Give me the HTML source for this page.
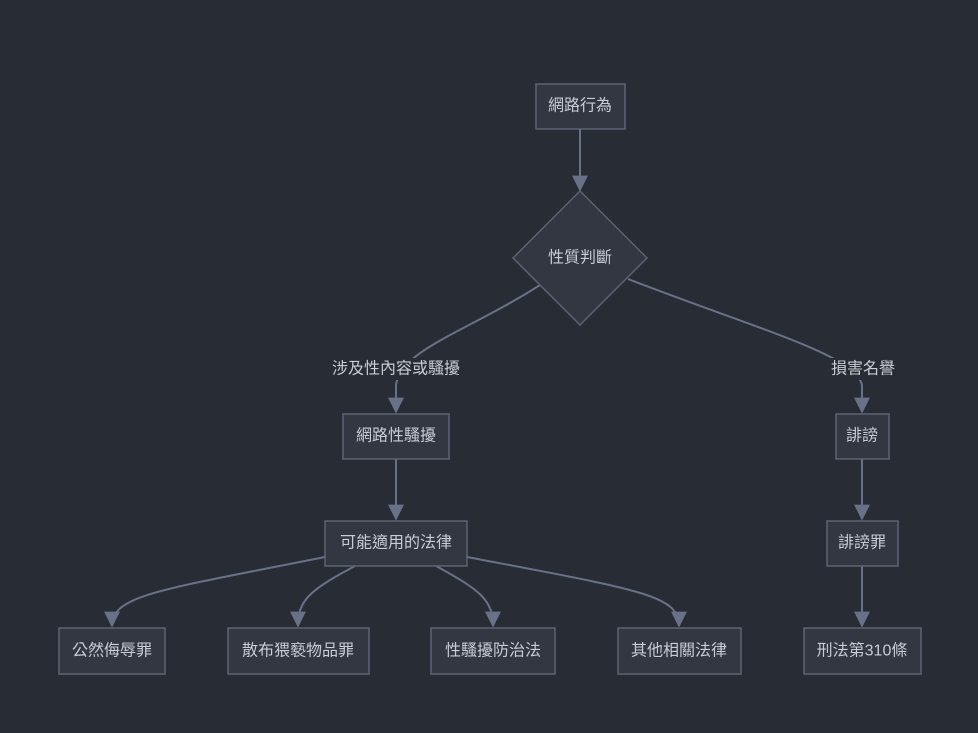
<!DOCTYPE html>
<html><head><meta charset="utf-8"><style>
html,body{margin:0;padding:0;background:#282c34;}
svg{display:block}
text{font-family:"Liberation Sans","Noto Sans CJK TC",sans-serif;font-size:16px;fill:#c8ccd4;text-anchor:middle;dominant-baseline:central}
.n{fill:#333742;stroke:#5c6372;stroke-width:1.5}
.e{fill:none;stroke:#687188;stroke-width:2}
</style></head><body>
<svg width="978" height="733" viewBox="0 0 978 733">
<defs><marker id="a" viewBox="0 0 10 10" refX="9" refY="5" markerWidth="8" markerHeight="8" orient="auto"><path d="M0,0L10,5L0,10z" fill="#687188"/></marker></defs>
<path class="e" d="M580,129L580,190" marker-end="url(#a)"/>
<path class="e" d="M540,285C470,330 400,350 396,385L396,412" marker-end="url(#a)"/>
<path class="e" d="M628,279C760,330 855,355 862,385L862,412" marker-end="url(#a)"/>
<path class="e" d="M396,459L396,519" marker-end="url(#a)"/>
<path class="e" d="M862,459L862,519" marker-end="url(#a)"/>
<path class="e" d="M862,566L862,626" marker-end="url(#a)"/>
<path class="e" d="M325,557C160,590 112,595 112,626" marker-end="url(#a)"/>
<path class="e" d="M355,566C310,590 298,600 298,626" marker-end="url(#a)"/>
<path class="e" d="M436,566C480,590 493,600 493,626" marker-end="url(#a)"/>
<path class="e" d="M467,557C640,590 679,595 679,626" marker-end="url(#a)"/>
<rect class="n" x="536" y="84" width="89" height="45"/><text x="580" y="106">網路行為</text>
<path class="n" d="M580,191L647,258L580,325L513,258z"/><text x="580" y="258">性質判斷</text>
<rect x="324" y="358" width="144" height="22" fill="#282c34"/><text x="396" y="369">涉及性內容或騷擾</text>
<rect x="827" y="358" width="72" height="22" fill="#282c34"/><text x="863" y="369">損害名譽</text>
<rect class="n" x="343" y="414" width="106" height="45"/><text x="396" y="436">網路性騷擾</text>
<rect class="n" x="836" y="414" width="53" height="45"/><text x="862" y="436">誹謗</text>
<rect class="n" x="325" y="521" width="142" height="45"/><text x="396" y="543">可能適用的法律</text>
<rect class="n" x="827" y="521" width="71" height="45"/><text x="862" y="543">誹謗罪</text>
<rect class="n" x="59" y="628" width="106" height="46"/><text x="112" y="651">公然侮辱罪</text>
<rect class="n" x="228" y="628" width="141" height="46"/><text x="298" y="651">散布猥褻物品罪</text>
<rect class="n" x="431" y="628" width="124" height="46"/><text x="493" y="651">性騷擾防治法</text>
<rect class="n" x="618" y="628" width="123" height="46"/><text x="679" y="651">其他相關法律</text>
<rect class="n" x="804" y="628" width="117" height="46"/><text x="862" y="651">刑法第310條</text>
</svg>
</body></html>
